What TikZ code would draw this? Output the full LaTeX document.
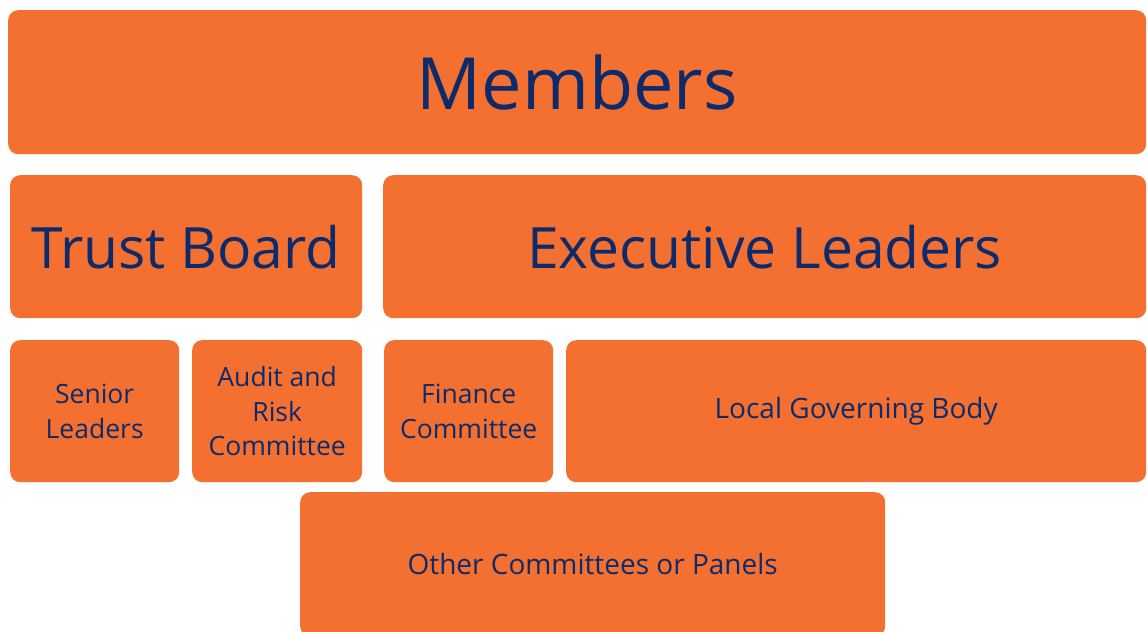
\documentclass[tikz,border=0pt]{standalone}
\usepackage{fontspec}
\setmainfont{Open Sans}
\definecolor{boxorange}{HTML}{F37030}
\definecolor{textnavy}{HTML}{0D2B6B}
\tikzset{
  orgbox/.style={fill=boxorange, text=textnavy, rounded corners=10pt, anchor=north west,
    inner sep=0pt, align=center, font=\fontsize{26.5}{34.5}\selectfont},
  bigtext/.style={font=\fontsize{57}{62}\selectfont},
  widetext/.style={font=\fontsize{28}{34}\selectfont},
}
\begin{document}
\begin{tikzpicture}[x=1pt,y=-1pt]
  \useasboundingbox (0,0) rectangle (1147,631);
  % top row
  \node[orgbox, minimum width=1138pt, minimum height=144pt, font=\fontsize{72}{78}\selectfont] (members) at (8,10) {Members};
  % second row
  \node[orgbox, bigtext, minimum width=352pt, minimum height=143pt] (board) at (10,175) {Trust Board};
  \node[orgbox, bigtext, minimum width=763pt, minimum height=143pt] (exec) at (383,175) {Executive Leaders};
  % third row
  \node[orgbox, minimum width=169pt, minimum height=142pt] (senior) at (10,340) {Senior\\Leaders};
  \node[orgbox, minimum width=170pt, minimum height=142pt] (audit) at (192,340) {Audit and\\Risk\\Committee};
  \node[orgbox, minimum width=169pt, minimum height=142pt] (finance) at (384,340) {Finance\\Committee};
  \node[orgbox, widetext, minimum width=580pt, minimum height=142pt] (lgb) at (566,340) {Local Governing Body};
  % bottom
  \node[orgbox, widetext, minimum width=585pt, minimum height=144pt] (other) at (300,492) {Other Committees or Panels};
\end{tikzpicture}
\end{document}
